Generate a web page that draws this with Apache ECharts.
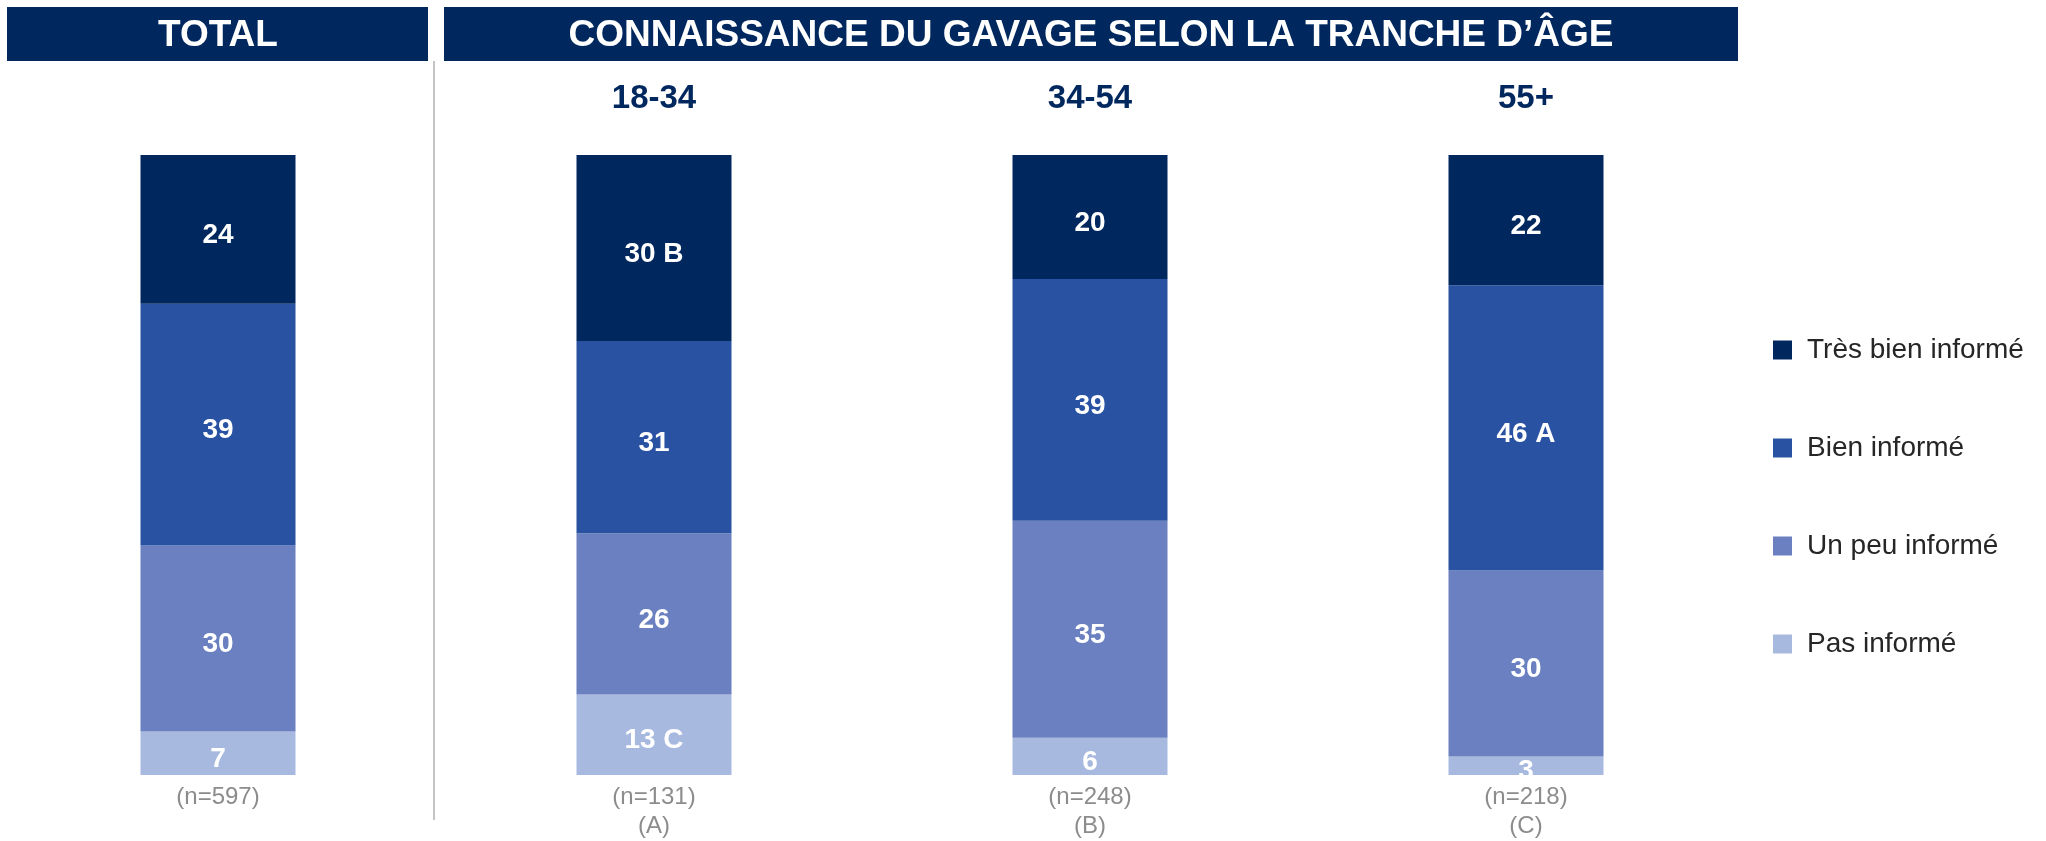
<html>
<head>
    <meta http-equiv="content-type" content="text/html; charset=utf-8">
    <title>Connaissance du gavage</title>
    <script src="https://cdn.jsdelivr.net/npm/echarts@6/dist/echarts.min.js"></script>
    <style>
        body { margin: 0; background: #fff; }
        #chart { width: 2046px; height: 841px; }
    </style>
</head>

<body>
    <div id="chart"></div>
    <script type="text/javascript">
        // columns (bottom labels) and age bands (top labels)
        var columns = ['TOTAL', '18-34', '34-54', '55+'];
        var ageLabels = ['', '18-34', '34-54', '55+'];
        var baseLabels = ['(n=597)', '(n=131)\n(A)', '(n=248)\n(B)', '(n=218)\n(C)'];

        // shares in %
        var tresBien = [24, 30, 20, 22];
        var bien = [39, 31, 39, 46];
        var unPeu = [30, 26, 35, 30];
        var pas = [7, 13, 6, 3];

        // significance letters next to the values
        var sigTresBien = ['', 'B', '', ''];
        var sigBien = ['', '', '', 'A'];
        var sigUnPeu = ['', '', '', ''];
        var sigPas = ['', 'C', '', ''];

        var font = "'Liberation Sans', Arial, sans-serif";
        var navy = '#01285e';

        function mkSeries(name, data, sig, color) {
            return {
                name: name,
                type: 'bar',
                stack: 'all',
                barWidth: 155,
                data: data,
                itemStyle: { color: color },
                label: {
                    show: true,
                    position: 'inside',
                    offset: [0, 6],
                    color: '#fff',
                    fontFamily: font,
                    fontWeight: 'bold',
                    fontSize: 28,
                    formatter: function(p) {
                        var s = sig[p.dataIndex];
                        return s ? p.value + ' ' + s : '' + p.value;
                    }
                }
            };
        }

        var chart = echarts.init(document.getElementById('chart'));
        chart.setOption({
            animation: false,
            grid: { left: 0, right: 302, top: 155, bottom: 65 },
            legend: {
                orient: 'vertical',
                left: 1768,
                top: 331,
                itemWidth: 19,
                itemHeight: 19,
                itemGap: 70,
                icon: 'rect',
                data: ['Très bien informé', 'Bien informé', 'Un peu informé', 'Pas informé'],
                textStyle: { fontFamily: font, fontSize: 28, color: '#262626', padding: [0, 0, 0, 10] }
            },
            xAxis: [{
                type: 'category',
                data: columns,
                position: 'bottom',
                axisLine: { show: false },
                axisTick: { show: false },
                axisLabel: {
                    margin: 8,
                    fontFamily: font,
                    fontSize: 24,
                    lineHeight: 29,
                    color: '#8c8c8c',
                    formatter: function(v, i) { return baseLabels[i]; }
                }
            }, {
                type: 'category',
                data: columns,
                position: 'top',
                axisLine: { show: false },
                axisTick: { show: false },
                axisLabel: {
                    margin: 40,
                    fontFamily: font,
                    fontSize: 33,
                    lineHeight: 33,
                    fontWeight: 'bold',
                    color: navy,
                    formatter: function(v, i) { return ageLabels[i]; }
                }
            }],
            yAxis: { type: 'value', min: 0, max: 100, show: false },
            series: [
                mkSeries('Pas informé', pas, sigPas, '#a8b9e0'),
                mkSeries('Un peu informé', unPeu, sigUnPeu, '#6a80c0'),
                mkSeries('Bien informé', bien, sigBien, '#2952a3'),
                mkSeries('Très bien informé', tresBien, sigTresBien, navy)
            ],
            graphic: [
                { type: 'rect', shape: { x: 7, y: 7, width: 421, height: 54 }, style: { fill: navy } },
                { type: 'text', x: 218, y: 36, style: { text: 'TOTAL', fill: '#fff', font: 'bold 37px ' + font, align: 'center', verticalAlign: 'middle' } },
                { type: 'rect', shape: { x: 444, y: 7, width: 1294, height: 54 }, style: { fill: navy } },
                { type: 'text', x: 1091, y: 36, style: { text: 'CONNAISSANCE DU GAVAGE SELON LA TRANCHE D’ÂGE', fill: '#fff', font: 'bold 37px ' + font, align: 'center', verticalAlign: 'middle' } },
                { type: 'line', shape: { x1: 434, y1: 61, x2: 434, y2: 820 }, style: { stroke: '#c4c4c4', lineWidth: 2 } }
            ]
        });
    </script>
</body>
</html>
